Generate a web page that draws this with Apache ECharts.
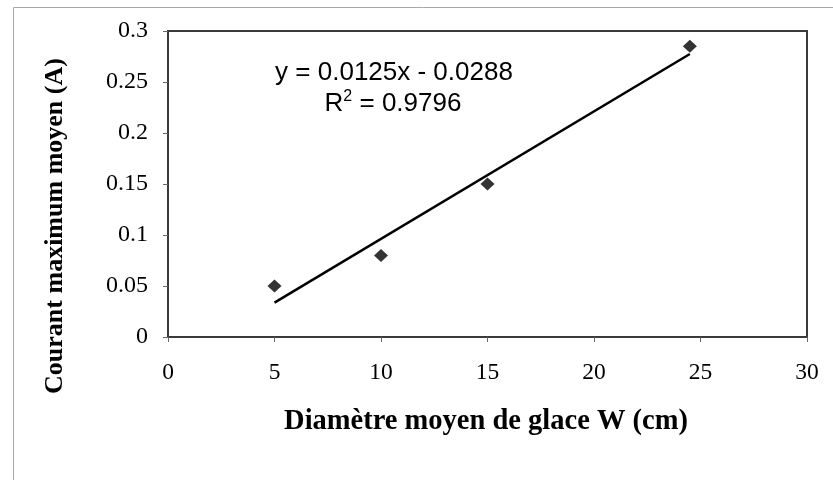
<!DOCTYPE html>
<html>
<head>
<meta charset="utf-8">
<script src="https://cdn.jsdelivr.net/npm/echarts@6/dist/echarts.min.js"></script>
<style>
  html, body { margin: 0; padding: 0; background: #fff; }
  #chart { width: 833px; height: 480px; }
</style>
</head>
<body>
<div id="chart"></div>
<script>
// Mean ice diameter (cm) vs mean peak current (A)
const diameters = [5, 10, 15, 24.5];
const currents = [0.05, 0.08, 0.15, 0.285];

// Linear trendline as reported on the chart
const trendSlope = 0.0125;
const trendIntercept = -0.0288;
const trendR2 = 0.9796;

const xTicks = [0, 30, 5];      // min, max, interval
const yTicks = [0, 0.3, 0.05];  // min, max, interval

const xTitle = 'Diamètre moyen de glace W (cm)';
const yTitle = 'Courant maximum moyen (A)';

const points = diameters.map((d, i) => [d, currents[i]]);
const xMin = Math.min(...diameters), xMax = Math.max(...diameters);
const trend = [xMin, xMax].map(x => [x, trendSlope * x + trendIntercept]);

const serif = '"Liberation Serif", "Times New Roman", serif';
const sans = '"Liberation Sans", Arial, sans-serif';

const chart = echarts.init(document.getElementById('chart'), null, { renderer: 'canvas' });
chart.setOption({
  animation: false,
  backgroundColor: '#fff',
  grid: {
    left: 168, top: 31, right: 26, bottom: 143,
    show: true, borderColor: '#3a3a3a', borderWidth: 2, backgroundColor: '#fff'
  },
  xAxis: {
    type: 'value', min: xTicks[0], max: xTicks[1], interval: xTicks[2],
    axisLine: { show: false },
    axisTick: { show: true, length: 5, lineStyle: { color: '#666' } },
    splitLine: { show: false },
    axisLabel: { color: '#000', fontFamily: serif, fontSize: 23.5, margin: 24 }
  },
  yAxis: {
    type: 'value', min: yTicks[0], max: yTicks[1], interval: yTicks[2],
    axisLine: { show: false },
    axisTick: { show: true, length: 5, lineStyle: { color: '#666' } },
    splitLine: { show: false },
    axisLabel: {
      color: '#000', fontFamily: serif, fontSize: 24, margin: 20,
      formatter: v => String(+v.toFixed(2))
    }
  },
  graphic: [
    {
      type: 'rect', silent: true, z: -1,
      shape: { x: 13.5, y: 7.5, width: 900, height: 600 },
      style: { fill: null, stroke: '#aaa', lineWidth: 1 }
    },
    {
      type: 'text', x: 486, y: 422,
      style: {
        text: xTitle, fill: '#000', fontFamily: serif, fontWeight: 'bold',
        fontSize: 28.5, align: 'center', verticalAlign: 'middle'
      }
    },
    {
      type: 'text', x: 55, y: 226, rotation: Math.PI / 2,
      style: {
        text: yTitle, fill: '#000', fontFamily: serif, fontWeight: 'bold',
        fontSize: 26, align: 'center', verticalAlign: 'middle'
      }
    },
    {
      type: 'text', x: 394, y: 73,
      style: {
        text: 'y = ' + trendSlope + 'x - ' + Math.abs(trendIntercept),
        fill: '#000', fontFamily: sans, fontSize: 26,
        align: 'center', verticalAlign: 'middle'
      }
    },
    {
      type: 'text', x: 393, y: 103,
      style: {
        text: '{b|R}{s|2}{b| = ' + trendR2 + '}',
        align: 'center', verticalAlign: 'middle',
        rich: {
          b: { fill: '#000', fontFamily: sans, fontSize: 26, verticalAlign: 'bottom' },
          s: { fill: '#000', fontFamily: sans, fontSize: 16, verticalAlign: 'top', padding: [0, 0, 12, 0] }
        }
      }
    }
  ],
  series: [
    {
      type: 'line', data: trend, showSymbol: false, symbol: 'none',
      lineStyle: { color: '#000', width: 2.5 }, z: 2
    },
    {
      type: 'scatter', data: points, symbol: 'diamond', symbolSize: [14, 13],
      itemStyle: { color: '#000' }, z: 3
    }
  ]
});
</script>
</body>
</html>
